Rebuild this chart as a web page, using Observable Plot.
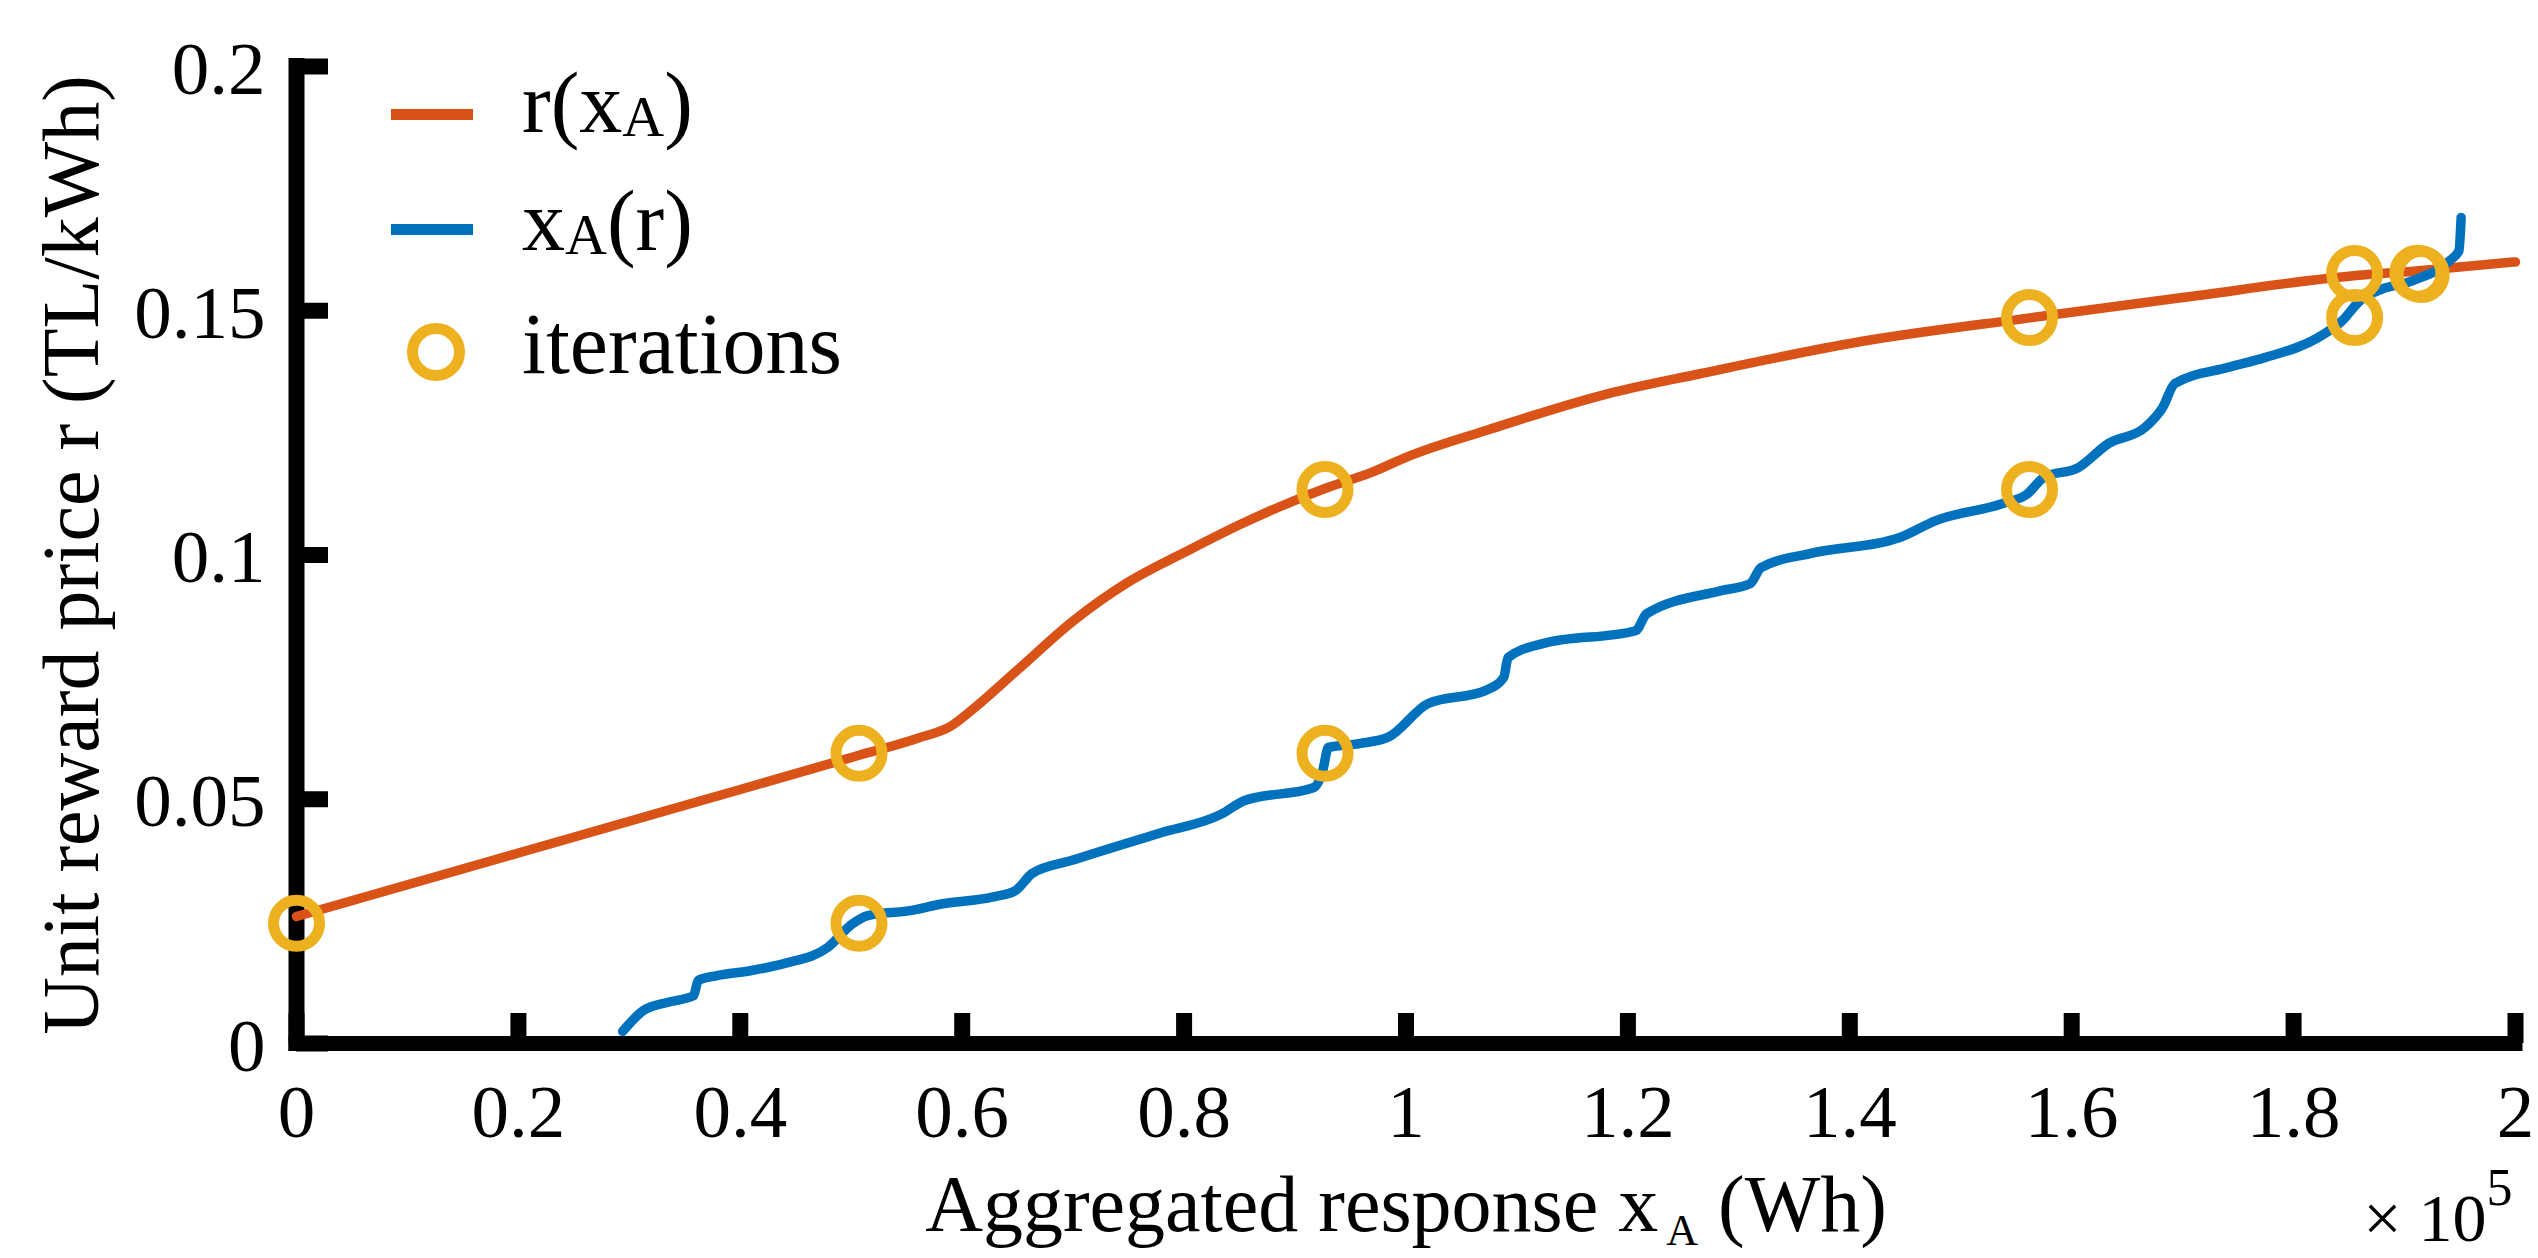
<!DOCTYPE html>
<html>
<head>
<meta charset="utf-8">
<script src="https://cdn.jsdelivr.net/npm/d3@7"></script>
<script src="https://cdn.jsdelivr.net/npm/@observablehq/plot@0.6"></script>
<style>
  html, body { margin: 0; padding: 0; background: #fff; }
  #chart { position: relative; width: 2538px; height: 1258px; }
</style>
</head>
<body>
<div id="chart"></div>
<script>
// ---- data (x in units of 1e5 Wh, y in TL/kWh) ----
const orangeX = [0, 0.1, 0.2, 0.3, 0.4, 0.507, 0.56, 0.59, 0.61, 0.65, 0.7, 0.75, 0.8, 0.85, 0.9, 0.927, 0.97, 1.0, 1.075, 1.18, 1.265, 1.41, 1.564, 1.7, 1.856, 1.913, 2.0];
const orangeY = [0.026, 0.0325, 0.039, 0.0455, 0.052, 0.059, 0.0625, 0.065, 0.0685, 0.0765, 0.0865, 0.0945, 0.1005, 0.1062, 0.1112, 0.1136, 0.117, 0.1200, 0.1257, 0.1329, 0.1371, 0.1437, 0.1486, 0.1527, 0.1572, 0.1582, 0.1600];

const blueX = [0.294, 0.313, 0.334, 0.358, 0.362, 0.379, 0.409, 0.44, 0.479, 0.501, 0.515, 0.553, 0.58, 0.628, 0.648, 0.663, 0.699, 0.777, 0.834, 0.854, 0.917, 0.925, 0.930, 0.958, 0.984, 1.020, 1.072, 1.088, 1.092, 1.124, 1.207, 1.217, 1.284, 1.310, 1.320, 1.364, 1.445, 1.477, 1.537, 1.560, 1.575, 1.606, 1.633, 1.666, 1.682, 1.693, 1.741, 1.774, 1.822, 1.844, 1.860, 1.876, 1.908, 1.941, 1.949, 1.951];
const blueY = [0.0025, 0.0068, 0.0084, 0.0098, 0.0129, 0.0139, 0.0149, 0.0164, 0.0197, 0.0245, 0.0262, 0.0272, 0.0285, 0.0300, 0.0313, 0.0348, 0.0375, 0.0430, 0.0470, 0.0497, 0.0524, 0.0559, 0.0606, 0.0614, 0.0627, 0.0696, 0.0723, 0.0749, 0.0790, 0.0819, 0.0845, 0.0880, 0.0927, 0.0941, 0.0974, 0.1003, 0.1036, 0.1070, 0.1105, 0.1125, 0.1159, 0.1179, 0.1228, 0.1261, 0.1302, 0.1351, 0.1384, 0.1404, 0.1445, 0.1480, 0.1521, 0.1541, 0.1562, 0.1603, 0.1623, 0.1691];

const iterX = [0, 0.507, 0.507, 0.927, 0.927, 1.562, 1.562, 1.855, 1.855, 1.912, 1.915];
const iterY = [0.0246, 0.0246, 0.0594, 0.0594, 0.1134, 0.1134, 0.1486, 0.1486, 0.1576, 0.1577, 0.1574];

const xTicks = [0, 0.2, 0.4, 0.6, 0.8, 1, 1.2, 1.4, 1.6, 1.8, 2];
const xTickLabels = ["0", "0.2", "0.4", "0.6", "0.8", "1", "1.2", "1.4", "1.6", "1.8", "2"];
const yTicks = [0, 0.05, 0.1, 0.15, 0.2];
const yTickLabels = ["0", "0.05", "0.1", "0.15", "0.2"];

const seriesNames = ["r(xA)", "xA(r)", "iterations"];
const xLabel = "Aggregated response xA (Wh)";
const yLabel = "Unit reward price r (TL/kWh)";

const ORANGE = "#D95319", BLUE = "#0072BD", YELLOW = "#EDB120";
const FONT = "'Liberation Serif', 'Times New Roman', serif";

const orange = orangeX.map((x, i) => ({x, y: orangeY[i]}));
const blue = blueX.map((x, i) => ({x, y: blueY[i]}));
const iters = iterX.map((x, i) => ({x, y: iterY[i]}));

const W = 2538, H = 1258;
const mL = 296, mR = 23, mT = 66, mB = 215;

const chart = Plot.plot({
  width: W, height: H,
  marginLeft: mL, marginRight: mR, marginTop: mT, marginBottom: mB,
  style: {background: "white", color: "black", fontFamily: FONT},
  x: {domain: [0, 2], label: null},
  y: {domain: [0, 0.2], label: null},
  marks: [
    // axis lines
    Plot.ruleY([0], {stroke: "black", strokeWidth: 15, strokeLinecap: "square"}),
    Plot.ruleX([0], {stroke: "black", strokeWidth: 16, strokeLinecap: "square"}),
    // inward ticks
    Plot.tickX(xTicks, {x: d => d, stroke: "black", strokeWidth: 16, insetTop: (H - mT - mB) - 30}),
    Plot.tickY(yTicks, {y: d => d, stroke: "black", strokeWidth: 16, insetRight: (W - mL - mR) - 32}),
    // tick labels
    Plot.axisX({ticks: xTicks, tickSize: 0, tickPadding: 40, label: null, fontSize: 75,
      tickFormat: d => xTickLabels[xTicks.indexOf(d)]}),
    Plot.axisY({ticks: yTicks, tickSize: 0, tickPadding: 31, label: null, fontSize: 75, dy: 3,
      tickFormat: d => yTickLabels[yTicks.indexOf(d)]}),
    // axis labels
    Plot.text([xLabel], {text: d => d, frameAnchor: "bottom", textAnchor: "middle", dy: 187, lineAnchor: "bottom", fontSize: 80}),
    Plot.text([yLabel], {text: d => d, frameAnchor: "left", textAnchor: "middle", dx: -199, lineAnchor: "bottom", rotate: -90, fontSize: 80}),
    Plot.text(["× 10"], {text: d => d, frameAnchor: "bottom-right", textAnchor: "end", dx: -3, dy: 197, lineAnchor: "bottom", fontSize: 68}),
    // data
    Plot.line(orange, {x: "x", y: "y", stroke: ORANGE, strokeWidth: 9.5, curve: "monotone-x"}),
    Plot.line(blue, {x: "x", y: "y", stroke: BLUE, strokeWidth: 9.5, curve: "monotone-x"}),
    Plot.dot(iters, {x: "x", y: "y", r: 23, stroke: YELLOW, strokeWidth: 11, fill: "none"})
  ]
});

document.getElementById("chart").appendChild(chart);
const svg = d3.select(chart);

// x label with subscript A
svg.selectAll("text").filter(function() { return this.textContent === xLabel; }).each(function() {
  const t = d3.select(this);
  t.text(null);
  t.append("tspan").text("Aggregated response x");
  t.append("tspan").attr("font-size", 44).attr("dy", 14).attr("dx", 8).text("A");
  t.append("tspan").attr("dy", -14).text(" (Wh)");
});
// ×10^5
svg.selectAll("text").filter(function() { return this.textContent === "× 10"; }).each(function() {
  const t = d3.select(this);
  t.append("tspan").attr("font-size", 52).attr("dy", -36).text("5");
});

// legend
const lg = svg.append("g").attr("font-family", FONT).attr("font-size", 86)
  .attr("fill", "black").attr("text-anchor", "start");
lg.append("line").attr("x1", 391).attr("x2", 473).attr("y1", 114.5).attr("y2", 114.5)
  .attr("stroke", ORANGE).attr("stroke-width", 11);
lg.append("line").attr("x1", 391).attr("x2", 473).attr("y1", 229.5).attr("y2", 229.5)
  .attr("stroke", BLUE).attr("stroke-width", 11);
lg.append("circle").attr("cx", 436).attr("cy", 352).attr("r", 23.5)
  .attr("fill", "none").attr("stroke", YELLOW).attr("stroke-width", 11);
const t1 = lg.append("text").attr("x", 522).attr("y", 132);
t1.append("tspan").text("r(x");
t1.append("tspan").attr("font-size", 58).attr("dy", 4).text("A");
t1.append("tspan").attr("dy", -4).text(")");
const t2 = lg.append("text").attr("x", 522).attr("y", 250);
t2.append("tspan").text("x");
t2.append("tspan").attr("font-size", 58).attr("dy", 4).text("A");
t2.append("tspan").attr("dy", -4).text("(r)");
lg.append("text").attr("x", 522).attr("y", 373).text(seriesNames[2]);
</script>
</body>
</html>
